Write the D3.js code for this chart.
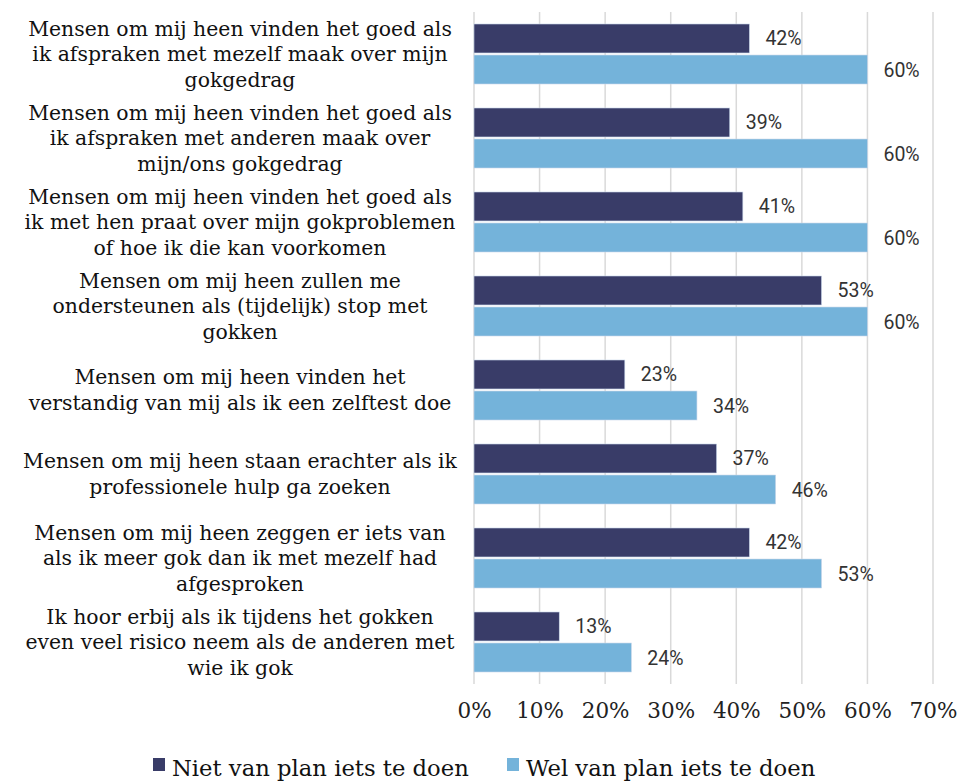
<!DOCTYPE html>
<html>
<head>
<meta charset="utf-8">
<script src="https://cdn.jsdelivr.net/npm/d3@7"></script>
<style>
  body { margin: 0; background: #fff; }
  svg { display: block; }
</style>
</head>
<body>
<script>
// chart data
var categories = [
  ["Mensen om mij heen vinden het goed als", "ik afspraken met mezelf maak over mijn", "gokgedrag"],
  ["Mensen om mij heen vinden het goed als", "ik afspraken met anderen maak over", "mijn/ons gokgedrag"],
  ["Mensen om mij heen vinden het goed als", "ik met hen praat over mijn gokproblemen", "of hoe ik die kan voorkomen"],
  ["Mensen om mij heen zullen me", "ondersteunen als (tijdelijk) stop met", "gokken"],
  ["Mensen om mij heen vinden het", "verstandig van mij als ik een zelftest doe"],
  ["Mensen om mij heen staan erachter als ik", "professionele hulp ga zoeken"],
  ["Mensen om mij heen zeggen er iets van", "als ik meer gok dan ik met mezelf had", "afgesproken"],
  ["Ik hoor erbij als ik tijdens het gokken", "even veel risico neem als de anderen met", "wie ik gok"]
];
var nietValues = [42, 39, 41, 53, 23, 37, 42, 13];
var welValues  = [60, 60, 60, 60, 34, 46, 53, 24];
var seriesNames = ["Niet van plan iets te doen", "Wel van plan iets te doen"];
var tickValues = [0, 10, 20, 30, 40, 50, 60, 70];

var colors = ["#393c68", "#74b3da"];

var width = 962, height = 782;
var svg = d3.select("body").append("svg")
  .attr("width", width)
  .attr("height", height);

var x = d3.scaleLinear().domain([0, 70]).range([474, 933]);
var y = d3.scaleBand().domain(d3.range(categories.length)).range([12, 684]);
var inner = d3.scaleBand().domain([0, 1]).range([12, 72]).paddingInner(0.066);

// gridlines
svg.append("g").selectAll("line")
  .data(tickValues)
  .enter().append("line")
  .attr("x1", d => x(d)).attr("x2", d => x(d))
  .attr("y1", 12).attr("y2", 684)
  .attr("stroke", "#d9d9d9")
  .attr("stroke-width", 1.5);

// x axis tick labels
var xAxis = d3.axisBottom(x)
  .tickValues(tickValues)
  .tickFormat(d => d + "%")
  .tickSize(0)
  .tickPadding(0);
var ax = svg.append("g")
  .attr("transform", "translate(0,703)")
  .call(xAxis);
ax.select(".domain").remove();
ax.selectAll("text")
  .attr("font-family", "'DejaVu Serif', serif")
  .attr("font-size", 21.5)
  .attr("fill", "#222");

var series = [nietValues, welValues];

// bars
series.forEach(function(vals, s) {
  var g = svg.append("g");
  g.selectAll("rect")
    .data(vals)
    .enter().append("rect")
    .attr("x", x(0))
    .attr("y", (d, i) => y(i) + inner(s))
    .attr("width", d => x(d) - x(0))
    .attr("height", inner.bandwidth())
    .attr("fill", colors[s])
    .attr("stroke", "#c8d6ea")
    .attr("stroke-width", 0.6);

  g.selectAll("text")
    .data(vals)
    .enter().append("text")
    .attr("x", d => x(d) + 16)
    .attr("y", (d, i) => y(i) + inner(s) + inner.bandwidth() / 2 + 7)
    .attr("font-family", "Roboto, sans-serif")
    .attr("font-size", 19.5)
    .attr("fill", "#333")
    .text(d => d + "%");
});

// category labels
var lineH = 25.5;
var labels = svg.append("g").selectAll("text")
  .data(categories)
  .enter().append("text")
  .attr("font-family", "'DejaVu Serif', serif")
  .attr("font-size", 20.4)
  .attr("fill", "#111")
  .attr("text-anchor", "middle");
labels.each(function(lines, i) {
  var cy = y(i) + y.bandwidth() / 2;
  var top = cy - (lines.length - 1) * lineH / 2 + 7;
  d3.select(this).selectAll("tspan")
    .data(lines)
    .enter().append("tspan")
    .attr("x", 240)
    .attr("y", (d, j) => top + j * lineH)
    .text(d => d);
});

// legend
var legendX = [153, 507];
var legend = svg.append("g").selectAll("g")
  .data(seriesNames)
  .enter().append("g")
  .attr("transform", (d, i) => "translate(" + legendX[i] + ",758)");
legend.append("rect")
  .attr("width", 12).attr("height", 13)
  .attr("fill", (d, i) => colors[i]);
legend.append("text")
  .attr("x", 19)
  .attr("y", 18)
  .attr("font-family", "'DejaVu Serif', serif")
  .attr("font-size", 22.7)
  .attr("fill", "#111")
  .text(d => d);
</script>
</body>
</html>
